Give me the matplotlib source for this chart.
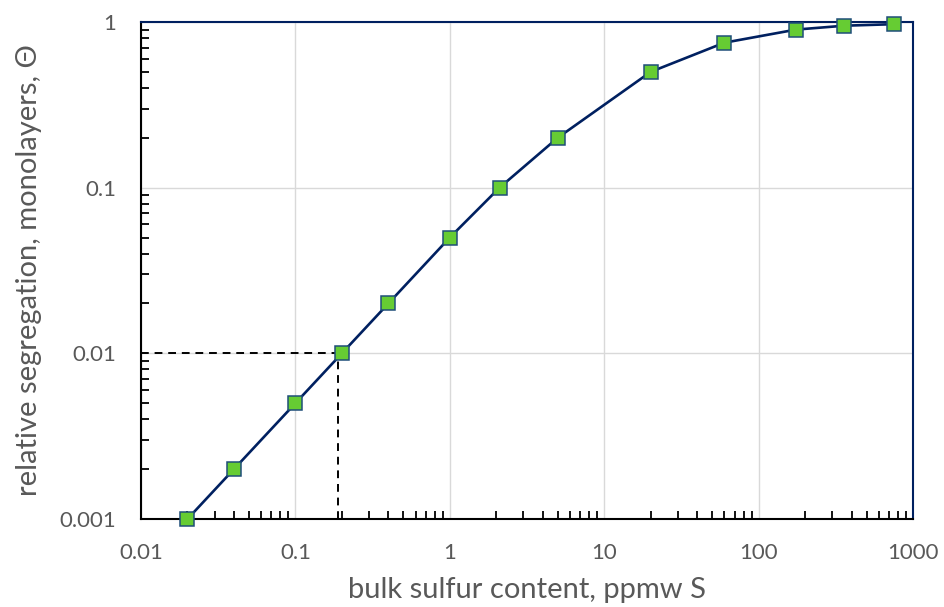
import numpy as np
import matplotlib
matplotlib.use('Agg')
import matplotlib.pyplot as plt
from matplotlib.ticker import LogLocator, FixedLocator, FixedFormatter, NullFormatter

plt.rcParams['font.family'] = ['Lato', 'DejaVu Sans']

# datos
sulfur_ppmw = [0.02, 0.04, 0.1, 0.2, 0.4, 1, 2.1, 5, 20, 60, 175, 360, 750]
theta = [0.001, 0.002, 0.005, 0.01, 0.02, 0.05, 0.1, 0.2, 0.5, 0.75, 0.9, 0.95, 0.97]
x_ticks = [0.01, 0.1, 1, 10, 100, 1000]
x_labels = ['0.01', '0.1', '1', '10', '100', '1000']
y_ticks = [0.001, 0.01, 0.1, 1]
y_labels = ['0.001', '0.01', '0.1', '1']
ref_x = 0.19
ref_y = 0.01

navy = '#002060'
gray = '#595959'

fig = plt.figure(figsize=(9.44, 6.07), dpi=100)
ax = fig.add_axes([141 / 944, 1 - 519 / 607, (913 - 141) / 944, (519 - 22) / 607])

ax.set_xscale('log')
ax.set_yscale('log')
ax.set_xlim(0.01, 1000)
ax.set_ylim(0.001, 1)

# grilla
ax.grid(True, which='major', color='#d9d9d9', linewidth=1)
ax.set_axisbelow(True)

# lineas de referencia
ax.plot([0.01, ref_x], [ref_y, ref_y], color='black', linestyle=(0, (4, 3)), linewidth=1.4, zorder=2)
ax.plot([ref_x, ref_x], [0.001, ref_y], color='black', linestyle=(0, (4, 3)), linewidth=1.4, zorder=2)

ax.plot(sulfur_ppmw, theta, color=navy, linewidth=1.9, marker='s', markersize=10.5,
        markerfacecolor='#66cc33', markeredgecolor='#1f4e79', markeredgewidth=1.1, zorder=3,
        clip_on=False)

ax.xaxis.set_major_locator(FixedLocator(x_ticks))
ax.xaxis.set_major_formatter(FixedFormatter(x_labels))
ax.yaxis.set_major_locator(FixedLocator(y_ticks))
ax.yaxis.set_major_formatter(FixedFormatter(y_labels))
ax.xaxis.set_minor_locator(LogLocator(base=10, subs=np.arange(2, 10)))
ax.yaxis.set_minor_locator(LogLocator(base=10, subs=np.arange(2, 10)))
ax.xaxis.set_minor_formatter(NullFormatter())
ax.yaxis.set_minor_formatter(NullFormatter())

ax.tick_params(which='major', length=0, labelsize=16, labelcolor=gray)
ax.tick_params(axis='x', which='major', pad=17)
ax.tick_params(axis='y', which='major', pad=18)
ax.tick_params(which='minor', direction='in', length=6, width=1.3, color='black')

for side in ['left', 'bottom']:
    ax.spines[side].set_color('black')
    ax.spines[side].set_linewidth(1.5)
for side in ['top', 'right']:
    ax.spines[side].set_color(navy)
    ax.spines[side].set_linewidth(1.5)

ax.set_xlabel('bulk sulfur content, ppmw S', fontsize=21, color=gray)
ax.set_ylabel('relative segregation, monolayers, \u0398', fontsize=21, color=gray)
ax.xaxis.set_label_coords(0.5, -0.117)
ax.yaxis.set_label_coords(-0.128, 0.5)

plt.savefig('out.png', dpi=100)
